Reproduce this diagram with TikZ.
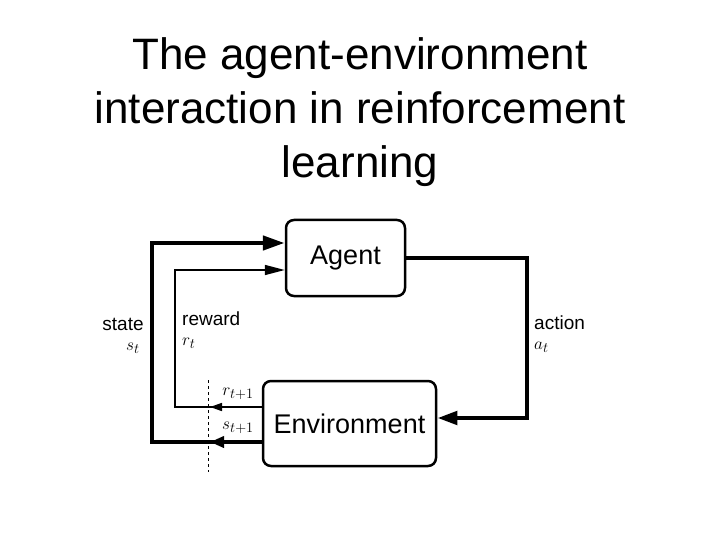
\documentclass[tikz,border=0pt]{standalone}
\usepackage{fontspec}
\setmainfont{Liberation Sans}
\usetikzlibrary{arrows.meta}
\tikzset{
  boxnode/.style={draw,line width=2.5pt,rounded corners=8pt,font=\fontsize{27}{30}\selectfont},
  lbl/.style={font=\fontsize{19}{20}\selectfont,align=left,inner sep=0pt},
  thickline/.style={line width=4.5pt},
  thinline/.style={line width=1.6pt},
}
\begin{document}
\begin{tikzpicture}[x=1pt,y=-1pt]
\useasboundingbox (0,0) rectangle (720,540);
\node[align=center,font=\fontsize{44}{54}\selectfont] (title) at (360,112)
  {The agent-environment\\interaction in reinforcement\\learning};
\node[boxnode,minimum width=119pt,minimum height=76pt] (agent) at (345.5,258) {Agent};
\node[boxnode,minimum width=173pt,minimum height=85pt] (env) at (349.5,423.5) {Environment};
% loop of the state
\coordinate (sa) at (152,243);
\coordinate (sb) at (152,442);
\draw[thickline,-{Triangle[length=22pt,width=14pt]}] (env.west |- sb) -- (sb) -- (sa) -- (agent.west |- sa);
\draw[thickline,-{Triangle[length=14pt,width=11pt]}] (env.west |- sb) -- (210,442);
% loop of the reward
\coordinate (ra) at (175,270);
\coordinate (rb) at (175,407);
\draw[thinline,-{Triangle[length=20pt,width=10pt]}] (env.west |- rb) -- (rb) -- (ra) -- (agent.west |- ra);
\draw[thinline,-{Triangle[length=12pt,width=8pt]}] (env.west |- rb) -- (210,407);
% action
\coordinate (aa) at (527,258);
\coordinate (ab) at (527,418);
\draw[thickline,-{Triangle[length=20pt,width=13pt]}] (agent.east) -- (aa) -- (ab) -- (env.east |- ab);
\draw[dashed,line width=1pt] (208,380) coordinate (d1) -- (208,472) coordinate (d2);
\node[lbl,align=right] (state) at (123,336) {state\\\hspace*{0pt}$s_t$\hspace*{4pt}};
\node[lbl,anchor=west] (reward) at (182,330) {reward\\$r_t$};
\node[lbl,anchor=west] (action) at (534,334) {action\\$a_t$};
\node[lbl] (rnext) at (238,394) {$r_{t+1}$};
\node[lbl] (snext) at (238,428) {$s_{t+1}$};
\end{tikzpicture}
\end{document}
